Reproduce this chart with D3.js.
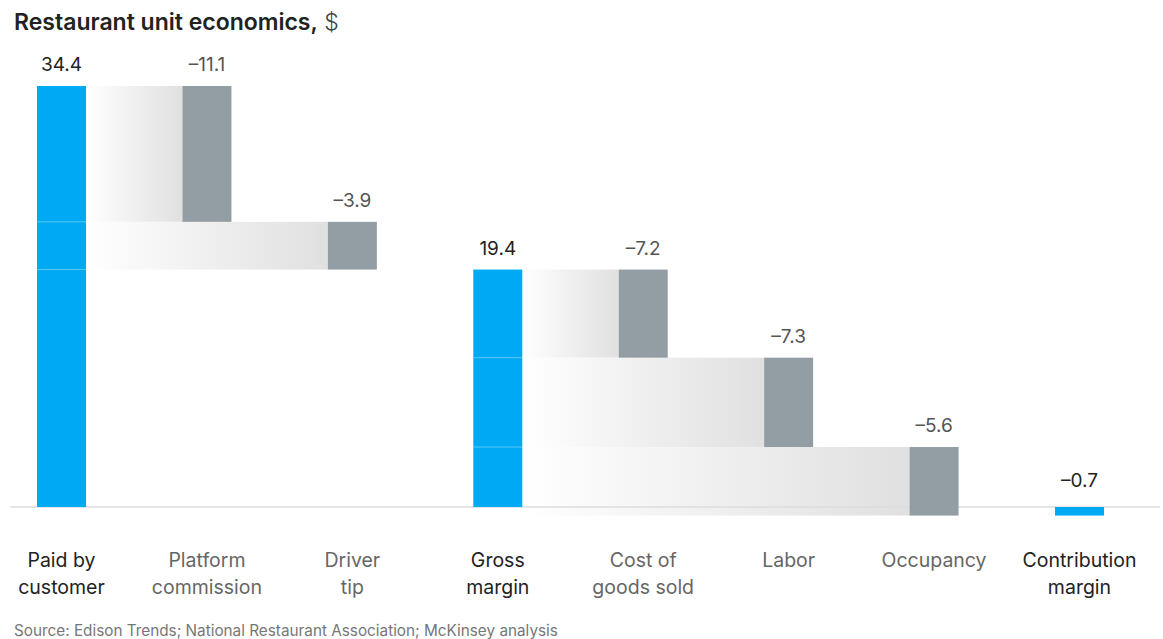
<!DOCTYPE html>
<html><head><meta charset="utf-8">
<script src="https://cdn.jsdelivr.net/npm/d3@7"></script>
<style>body{margin:0;background:#fff;} svg{display:block;font-family:"Inter","Liberation Sans",Arial,sans-serif;}</style>
</head><body>
<svg id="c" width="1163" height="639"></svg>
<script>
const categories = ["Paid by|customer","Platform|commission","Driver|tip","Gross|margin","Cost of|goods sold","Labor","Occupancy","Contribution|margin"];
const values = [34.4, -11.1, -3.9, 19.4, -7.2, -7.3, -5.6, -0.7];
const kinds = ["total","delta","delta","total","delta","delta","delta","total"];
const valueLabels = ["34.4","–11.1","–3.9","19.4","–7.2","–7.3","–5.6","–0.7"];
const title = "Restaurant unit economics,";
const source = "Source: Edison Trends; National Restaurant Association; McKinsey analysis";

const svg = d3.select("#c");
const blue = "#00a9f4", grey = "#939ea4";

const x = d3.scaleBand().domain(categories).range([37, 1104]).paddingInner(0.663).paddingOuter(0);
const y = d3.scaleLinear().domain([-0.7, 34.4]).range([507 + 0.7*421/34.4, 86]);

let running = 0, lastTotal = null;
const segs = categories.map((c,i)=>{
  let s;
  if (kinds[i]==="total"){ running = values[i]; s = {c, i, kind:"total", start:0, end:values[i]}; lastTotal = s; s.splits=[]; }
  else { const st = running; running += values[i]; s = {c, i, kind:"delta", start:st, end:running, src:lastTotal}; lastTotal.splits.push(running); }
  return s;
});

const defs = svg.append("defs");
const g = defs.append("linearGradient").attr("id","band").attr("x1","0").attr("x2","1").attr("y1","0").attr("y2","0");
g.append("stop").attr("offset","0").attr("stop-color","#ffffff");
g.append("stop").attr("offset","1").attr("stop-color","#e0e0e0");

svg.append("g").selectAll("rect").data(segs.filter(d=>d.kind==="delta")).join("rect")
  .attr("x", d=>x(d.src.c)+x.bandwidth())
  .attr("width", d=>x(d.c)-(x(d.src.c)+x.bandwidth()))
  .attr("y", d=>y(Math.max(d.start,d.end)))
  .attr("height", d=>Math.abs(y(d.start)-y(d.end)))
  .attr("fill","url(#band)");

svg.append("line").attr("x1",10).attr("x2",1160).attr("y1",y(0)).attr("y2",y(0))
  .attr("stroke","#dddddd").attr("stroke-width",1.5);

svg.append("g").selectAll("rect").data(segs).join("rect")
  .attr("x", d=>x(d.c)).attr("width", x.bandwidth())
  .attr("y", d=>y(Math.max(d.start,d.end)))
  .attr("height", d=>Math.max(1,Math.abs(y(d.start)-y(d.end))))
  .attr("fill", d=>d.kind==="total"?blue:grey);

segs.filter(d=>d.kind==="total").forEach(d=>{
  d.splits.filter(v=>v>0 && v<d.end).forEach(v=>{
    svg.append("line").attr("x1",x(d.c)).attr("x2",x(d.c)+x.bandwidth())
      .attr("y1",y(v)).attr("y2",y(v)).attr("stroke","rgba(255,255,255,0.35)").attr("stroke-width",1);
  });
});

svg.append("g").selectAll("text").data(segs).join("text")
  .attr("x", d=>x(d.c)+x.bandwidth()/2)
  .attr("y", d=> d.kind==="total" && d.end<0 ? y(0)-20 : y(Math.max(d.start,d.end))-15)
  .attr("text-anchor","middle").attr("font-size",19)
  .attr("fill", d=>d.kind==="total"?"#222":"#555")
  .text(d=>valueLabels[d.i]);

const cl = svg.append("g").selectAll("text").data(segs).join("text")
  .attr("text-anchor","middle").attr("font-size",19.5)
  .attr("fill", d=>d.kind==="total"?"#222":"#666");
cl.each(function(d){
  const lines = d.c.split("|");
  lines.forEach((t,k)=>{
    d3.select(this).append("tspan").attr("x", x(d.c)+x.bandwidth()/2).attr("y", 567+k*27).text(t);
  });
});

const t = svg.append("text").attr("x",14).attr("y",30).attr("font-size",23).attr("font-weight",600).attr("fill","#222").text(title);
t.append("tspan").attr("font-weight",300).attr("fill","#444").text(" $");

svg.append("text").attr("x",14).attr("y",636).attr("font-size",15.3).attr("fill","#777").text(source);
</script>
</body></html>
